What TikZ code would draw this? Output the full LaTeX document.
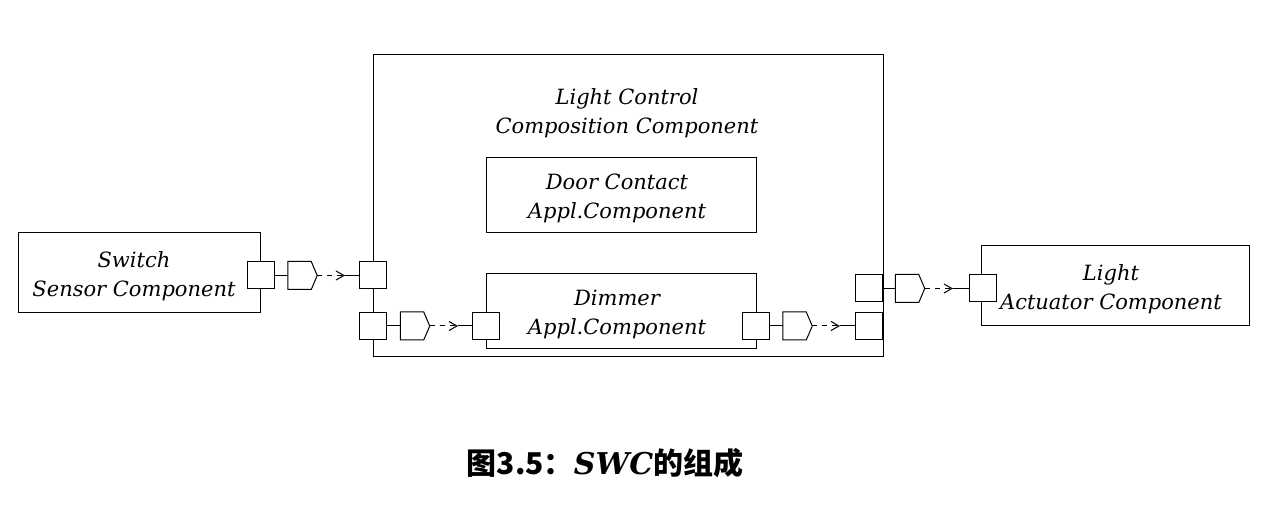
\documentclass[tikz,border=0pt]{standalone}
\usepackage{fontspec}
\setmainfont{DejaVu Serif}
\newfontfamily\cjk{Noto Sans CJK SC}
\usetikzlibrary{arrows.meta}
\tikzset{
  box/.style={draw, fill=white, inner sep=0pt},
  port/.style={draw, fill=white, minimum size=27pt, inner sep=0pt},
  iface/.style={minimum width=28.5pt, minimum height=27pt, inner sep=0pt},
  lbl/.style={font=\itshape\fontsize{21}{29}\selectfont, align=center, inner sep=0pt},
  flow/.style={dash pattern=on 5pt off 5pt, -{Straight Barb[length=8pt,width=9pt]}}
}
\begin{document}
\begin{tikzpicture}[x=1pt,y=-1pt, line width=1pt]
\useasboundingbox (0,0) rectangle (1264,526);
% boxes
\node[box, minimum width=242pt, minimum height=80pt] (sw) at (139,273) {};
\node[box, minimum width=510pt, minimum height=302pt] (comp) at (628,206) {};
\node[box, minimum width=270pt, minimum height=75pt] (door) at (621,195.5) {};
\node[box, minimum width=270pt, minimum height=75pt] (dim) at (621,311.5) {};
\node[box, minimum width=268pt, minimum height=80pt] (light) at (1115,286) {};
% labels
\node[lbl] (swt) at (134,276) {Switch\\Sensor Component};
\node[lbl] (compt) at (627,113) {Light Control\\Composition Component};
\node[lbl] (doort) at (617,198) {Door Contact\\Appl.Component};
\node[lbl] (dimt) at (617,314) {Dimmer\\Appl.Component};
\node[lbl] (lightt) at (1111,289) {Light\\Actuator Component};
% ports
\node[port] (p1) at (260.5,275.5) {};
\node[port] (p2) at (373,275.5) {};
\node[port] (p3) at (373,326) {};
\node[port] (p4) at (486,326) {};
\node[port] (p5) at (756,326) {};
\node[port] (p6) at (869,326) {};
\node[port] (p7) at (869,288.5) {};
\node[port] (p8) at (982.5,288.5) {};
% interfaces
\node[iface] (i1) at (302.5,275.5) {};
\node[iface] (i2) at (415,326) {};
\node[iface] (i3) at (797.5,326) {};
\node[iface] (i4) at (910,288.5) {};
\foreach \n in {i1,i2,i3,i4}
  \draw[fill=white] (\n.north west) -- ([xshift=-6pt]\n.north east) -- (\n.east)
    -- ([xshift=-6pt]\n.south east) -- (\n.south west) -- cycle;
% arrow tips
\coordinate (t1) at (345,275.5);
\coordinate (t2) at (458,326);
\coordinate (t3) at (840,326);
\coordinate (t4) at (953,288.5);
% connectors
\draw (p1.east) -- (i1.west);
\draw[flow] (i1.east) -- (t1);
\draw (t1) -- (p2.west);
\draw (p3.east) -- (i2.west);
\draw[flow] (i2.east) -- (t2);
\draw (t2) -- (p4.west);
\draw (p5.east) -- (i3.west);
\draw[flow] (i3.east) -- (t3);
\draw (t3) -- (p6.west);
\draw (p7.east) -- (i4.west);
\draw[flow] (i4.east) -- (t4);
\draw (t4) -- (p8.west);
% caption
\node[font=\fontsize{30}{36}\selectfont, inner sep=0pt] (cap) at (605,463)
  {{\cjk\bfseries 图3.5：}{\bfseries\itshape SWC}{\cjk\bfseries 的组成}};
\end{tikzpicture}
\end{document}
